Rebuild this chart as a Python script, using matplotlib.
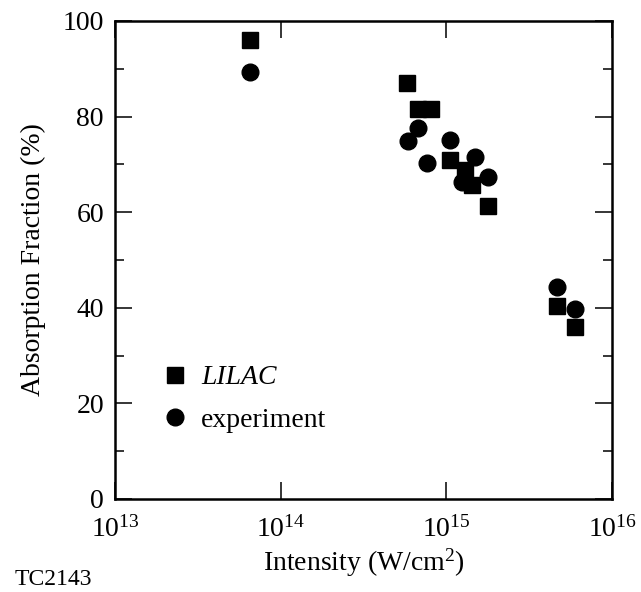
import matplotlib
matplotlib.use("Agg")
import matplotlib.pyplot as plt
from matplotlib.ticker import LogLocator, MultipleLocator, NullLocator

# Data
lilac_intensity = [6.5e13, 5.75e14, 6.76e14, 8.04e14, 1.05e15, 1.29e15, 1.42e15, 1.79e15, 4.63e15, 5.97e15]
lilac_absorption = [96.0, 87.1, 81.5, 81.5, 70.9, 68.8, 65.7, 61.2, 40.4, 36.0]

exp_intensity = [6.5e13, 5.89e14, 6.76e14, 7.60e14, 1.05e15, 1.24e15, 1.49e15, 1.79e15, 4.63e15, 5.97e15]
exp_absorption = [89.3, 74.9, 77.6, 70.2, 75.1, 66.4, 71.6, 67.4, 44.4, 39.7]

series_labels = ["LILAC", "experiment"]
x_label = "Intensity (W/cm$^2$)"
y_label = "Absorption Fraction (%)"
corner_tag = "TC2143"

plt.rcParams["font.family"] = ["Liberation Serif", "DejaVu Serif"]
plt.rcParams["mathtext.fontset"] = "custom"
plt.rcParams["mathtext.rm"] = "Liberation Serif"
plt.rcParams["mathtext.it"] = "Liberation Serif:italic"
plt.rcParams["mathtext.bf"] = "Liberation Serif:bold"

FS = 20

fig = plt.figure(figsize=(6.41, 5.92), dpi=100)
ax = fig.add_axes([115 / 641, 1 - 499 / 592, 497 / 641, 478 / 592])

ax.plot(lilac_intensity, lilac_absorption, linestyle="none", marker="s",
        markersize=11, color="black", label=series_labels[0])
ax.plot(exp_intensity, exp_absorption, linestyle="none", marker="o",
        markersize=12, color="black", label=series_labels[1])

ax.set_xscale("log")
ax.set_xlim(1e13, 1e16)
ax.set_ylim(0, 100)
ax.xaxis.set_major_locator(LogLocator(base=10, numticks=10))
ax.xaxis.set_minor_locator(NullLocator())
ax.yaxis.set_major_locator(MultipleLocator(20))
ax.yaxis.set_minor_locator(MultipleLocator(10))

ax.tick_params(which="both", direction="in", top=True, right=True, width=1.1,
               labelsize=FS, color="black")
ax.tick_params(which="major", length=12.5)
ax.tick_params(which="minor", length=6.5)
ax.tick_params(axis="x", which="major", pad=12)
ax.tick_params(axis="y", which="major", pad=8)

for sp in ax.spines.values():
    sp.set_linewidth(1.8)

ax.set_xlabel(x_label, fontsize=FS, labelpad=3)
ax.set_ylabel(y_label, fontsize=FS, labelpad=12)

leg = ax.legend(loc="center left", bbox_to_anchor=(0.0926, 0.209), frameon=False,
                fontsize=FS, handlelength=1.0, handletextpad=0.45, labelspacing=0.62,
                borderpad=0, borderaxespad=0)
leg.get_texts()[0].set_style("italic")

fig.text(0.023, 0.011, corner_tag, fontsize=17)

fig.savefig("out.png", dpi=100)
